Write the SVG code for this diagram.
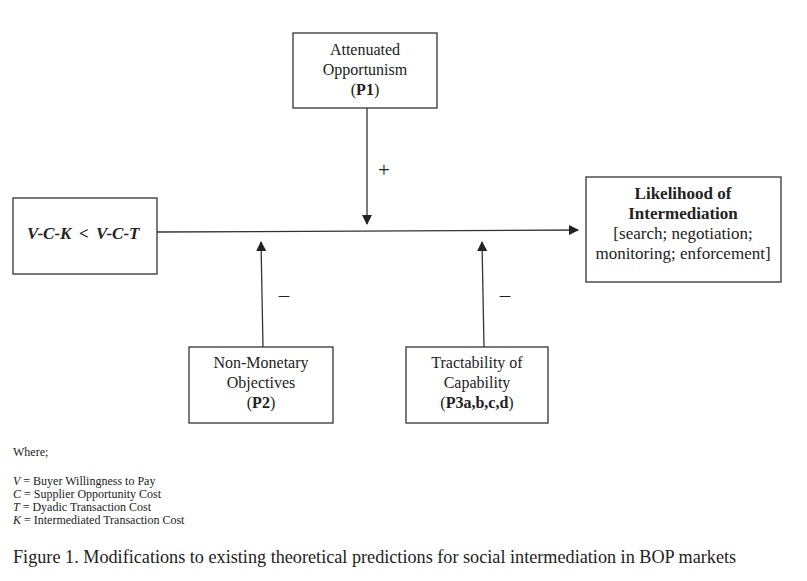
<svg xmlns="http://www.w3.org/2000/svg" width="807" height="581" viewBox="0 0 807 581">
<style>
.box{fill:#fff;stroke:#333;stroke-width:1.3}
.t{font-family:"Liberation Serif","Times New Roman",serif;font-size:16px;fill:#222;text-anchor:middle}
.r{font-size:17px}
.b{font-weight:bold}
.sign{font-family:"Liberation Serif","Times New Roman",serif;font-size:21px;fill:#222;text-anchor:middle}
.eq{font-family:"Liberation Serif","Times New Roman",serif;font-size:17px;font-weight:bold;font-style:italic;fill:#222}
.conn line{stroke:#333;stroke-width:1.3}
.leg{font-family:"Liberation Serif","Times New Roman",serif;font-size:12px;fill:#222}
.cap{font-family:"Liberation Serif","Times New Roman",serif;font-size:18.2px;fill:#222}
</style>
<defs>
<marker id="ah" markerWidth="10" markerHeight="10" refX="9" refY="5" orient="auto" markerUnits="userSpaceOnUse">
<path d="M0,0 L10,5 L0,10 z" fill="#222"/>
</marker>
</defs>
<rect width="807" height="581" fill="#fff"/>
<g class="conn">
<line x1="157" y1="232" x2="578" y2="230" marker-end="url(#ah)"/>
<line x1="367" y1="108" x2="367" y2="224" marker-end="url(#ah)"/>
<line x1="263" y1="347" x2="261" y2="242" marker-end="url(#ah)"/>
<line x1="484" y1="347" x2="482" y2="242" marker-end="url(#ah)"/>
</g>
<g id="labels">
<text class="sign" x="384" y="177">+</text>
<text class="sign" x="284" y="302">–</text>
<text class="sign" x="505" y="302">–</text>
</g>
<g id="node-vck">
<rect class="box" x="13" y="198" width="144" height="76"/>
<text class="eq" x="27" y="239">V-C-K</text>
<text class="eq" x="79" y="239">&lt;</text>
<text class="eq" x="96" y="239">V-C-T</text>
</g>
<g id="node-p1">
<rect class="box" x="293" y="33" width="144" height="75"/>
<text class="t" x="365" y="55">Attenuated</text>
<text class="t" x="365" y="75">Opportunism</text>
<text class="t" x="365" y="95">(<tspan class="b">P1</tspan>)</text>
</g>
<g id="node-likelihood">
<rect class="box" x="586" y="177" width="195" height="105"/>
<text class="t r b" x="683" y="199">Likelihood of</text>
<text class="t r b" x="683" y="219">Intermediation</text>
<text class="t r" x="683" y="239">[search; negotiation;</text>
<text class="t r" x="683" y="259">monitoring; enforcement]</text>
</g>
<g id="node-p2">
<rect class="box" x="189" y="347" width="144" height="76"/>
<text class="t" x="261" y="368">Non-Monetary</text>
<text class="t" x="261" y="388">Objectives</text>
<text class="t" x="261" y="408">(<tspan class="b">P2</tspan>)</text>
</g>
<g id="node-p3">
<rect class="box" x="406" y="347" width="142" height="76"/>
<text class="t" x="477" y="368">Tractability of</text>
<text class="t" x="477" y="388">Capability</text>
<text class="t" x="477" y="408">(<tspan class="b">P3a,b,c,d</tspan>)</text>
</g>
<g id="legend">
<text class="leg" x="13" y="456">Where;</text>
<text class="leg" x="13" y="485"><tspan font-style="italic">V</tspan> = Buyer Willingness to Pay</text>
<text class="leg" x="13" y="498"><tspan font-style="italic">C</tspan> = Supplier Opportunity Cost</text>
<text class="leg" x="13" y="511"><tspan font-style="italic">T</tspan> = Dyadic Transaction Cost</text>
<text class="leg" x="13" y="524"><tspan font-style="italic">K</tspan> = Intermediated Transaction Cost</text>
<text class="cap" x="13" y="563">Figure 1.  Modifications to existing theoretical predictions for social intermediation in BOP markets</text>
</g>
</svg>
